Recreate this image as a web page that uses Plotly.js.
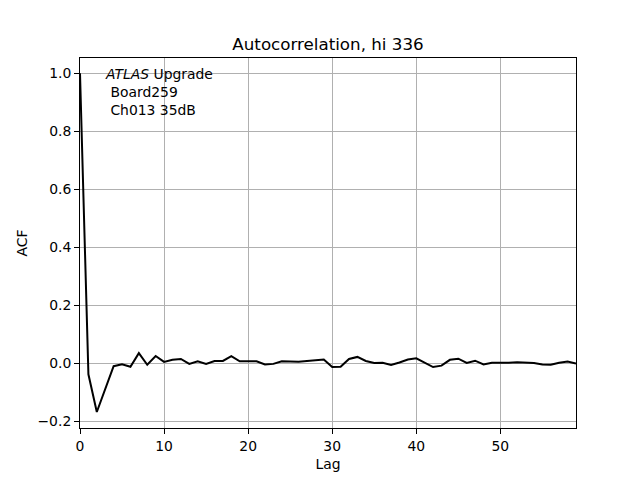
<!DOCTYPE html>
<html>
<head>
<meta charset="utf-8">
<script src="https://cdn.plot.ly/plotly-3.0.1.min.js"></script>
<style>html,body{margin:0;padding:0;background:#fff;}#chart{width:640px;height:480px;}</style>
</head>
<body>
<div id="chart"></div>
<script>
const lags = Array.from({length: 60}, (_, i) => i);
const acf = [1.0, -0.038, -0.168, -0.09, -0.01, -0.003, -0.012, 0.035, -0.005, 0.025,
  0.005, 0.012, 0.015, -0.002, 0.007, -0.002, 0.008, 0.008, 0.025, 0.007,
  0.006, 0.007, -0.004, -0.002, 0.007, 0.007, 0.005, 0.008, 0.010, 0.013,
  -0.013, -0.012, 0.015, 0.022, 0.008, 0.001, 0.002, -0.006, 0.003, 0.013,
  0.017, 0.002, -0.013, -0.008, 0.012, 0.016, 0.001, 0.009, -0.004, 0.002,
  0.001, 0.002, 0.004, 0.002, 0.001, -0.004, -0.005, 0.002, 0.006, -0.001];
const xTicks = [0, 10, 20, 30, 40, 50];
const yTicks = [-0.2, 0.0, 0.2, 0.4, 0.6, 0.8, 1.0];
const titleText = 'Autocorrelation, hi 336';
const labelText = '<i>ATLAS</i> Upgrade<br> Board259<br> Ch013 35dB';

const font = {family: 'DejaVu Sans', size: 13.9, color: '#000'};
const axisCommon = {
  showline: true, mirror: true, linecolor: '#000', linewidth: 1,
  ticks: 'outside', ticklen: 5, tickwidth: 1, tickcolor: '#000',
  showgrid: true, gridcolor: '#b0b0b0', gridwidth: 1,
  zeroline: false, tickfont: {family: 'DejaVu Sans', size: 13.9, color: '#000'}
};
Plotly.newPlot('chart', [{
  x: lags, y: acf, type: 'scatter', mode: 'lines',
  line: {color: '#000', width: 2}, hoverinfo: 'skip'
}], {
  width: 640, height: 480,
  margin: {l: 80, r: 64, t: 58, b: 52},
  paper_bgcolor: '#fff', plot_bgcolor: '#fff',
  font: font,
  showlegend: false,
  title: {text: titleText, font: {family: 'DejaVu Sans', size: 16.7, color: '#000'}, xref: 'paper', x: 0.5, xanchor: 'center', y: 1 - 44/480, yanchor: 'middle'},
  xaxis: Object.assign({}, axisCommon, {
    range: [0, 59], tickvals: xTicks, ticktext: xTicks.map(String),
    title: {text: 'Lag', font: font, standoff: 6}
  }),
  yaxis: Object.assign({}, axisCommon, {
    range: [-0.2231, 1.0528], tickvals: yTicks, tickformat: '.1f',
    title: {text: 'ACF', font: font, standoff: 6}
  }),
  annotations: [{
    xref: 'paper', yref: 'paper', x: 0.046, y: 0.985, xanchor: 'left', yanchor: 'top',
    align: 'left', showarrow: false, text: labelText,
    font: {family: 'DejaVu Sans', size: 13.9, color: '#000'}
  }]
}, {staticPlot: true});
</script>
</body>
</html>
